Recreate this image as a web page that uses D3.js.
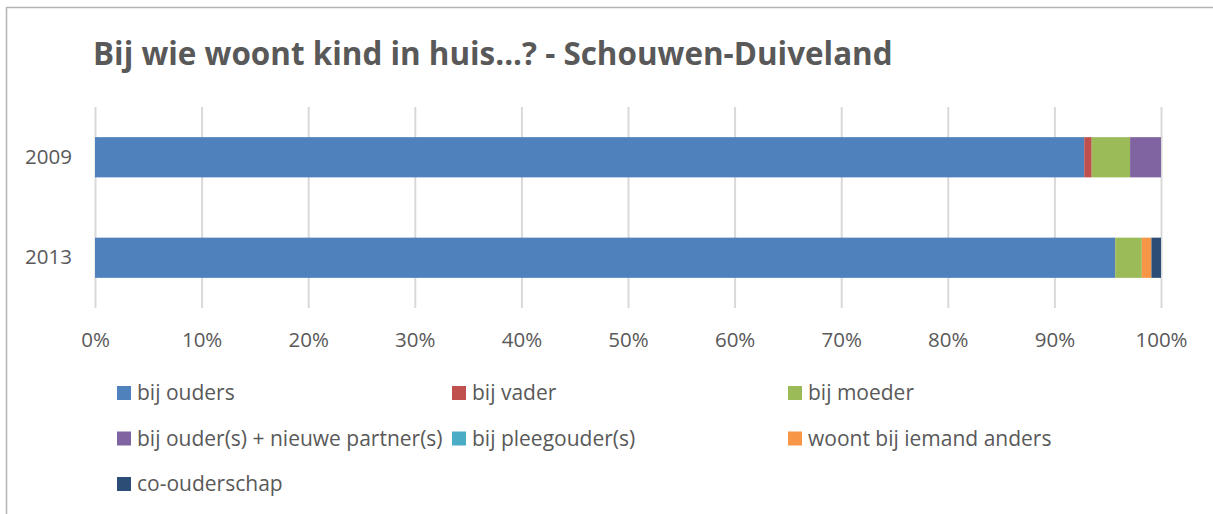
<!DOCTYPE html>
<html>
<head>
<meta charset="utf-8">
<script src="https://cdn.jsdelivr.net/npm/d3@7"></script>
<style>
  body { margin: 0; background: #fff; }
  svg { display: block; font-family: "Open Sans", sans-serif; }
</style>
</head>
<body>
<div id="chart"></div>
<script>
// categories (top to bottom)
var years = ["2009", "2013"];

// series, share per year (percent)
var seriesNames = ["bij ouders", "bij vader", "bij moeder", "bij ouder(s) + nieuwe partner(s)",
  "bij pleegouder(s)", "woont bij iemand anders", "co-ouderschap"];
var bijOuders = [92.8, 95.7];
var bijVader = [0.7, 0.0];
var bijMoeder = [3.6, 2.5];
var nieuwePartner = [2.9, 0.0];
var pleegouder = [0.0, 0.0];
var iemandAnders = [0.0, 0.9];
var coOuderschap = [0.0, 0.9];
var seriesColors = ["#4F81BD", "#C0504D", "#9BBB59", "#8064A2", "#4BACC6", "#F79646", "#2C4D75"];

var xTicks = [0, 0.1, 0.2, 0.3, 0.4, 0.5, 0.6, 0.7, 0.8, 0.9, 1];

var W = 1213, H = 514;
var margin = { top: 107, right: 52, bottom: 206, left: 95 };

var svg = d3.select("#chart").append("svg")
  .attr("width", W)
  .attr("height", H);

// outer chart border
svg.append("rect")
  .attr("x", 6.5).attr("y", 7.5)
  .attr("width", W + 20).attr("height", H + 20)
  .attr("fill", "none")
  .attr("stroke", "#b3b3b3")
  .attr("stroke-width", 1.5);

// build table for the stack
var allValues = [bijOuders, bijVader, bijMoeder, nieuwePartner, pleegouder, iemandAnders, coOuderschap];
var table = years.map(function (y, i) {
  var row = { year: y };
  seriesNames.forEach(function (s, j) { row[s] = allValues[j][i] / 100; });
  return row;
});
var stacked = d3.stack().keys(seriesNames)(table);

var x = d3.scaleLinear()
  .domain([0, 1])
  .range([margin.left, W - margin.right]);

var y = d3.scaleBand()
  .domain(years)
  .range([margin.top, H - margin.bottom])
  .paddingInner(0.6)
  .paddingOuter(0.3);

var color = d3.scaleOrdinal().domain(seriesNames).range(seriesColors);

// gridlines
svg.append("g")
  .selectAll("line")
  .data(xTicks)
  .join("line")
  .attr("x1", function (d) { return x(d) + 0.5; })
  .attr("x2", function (d) { return x(d) + 0.5; })
  .attr("y1", margin.top)
  .attr("y2", H - margin.bottom)
  .attr("stroke", "#d9d9d9")
  .attr("stroke-width", 2);

// bars
svg.append("g")
  .selectAll("g")
  .data(stacked)
  .join("g")
  .attr("fill", function (d) { return color(d.key); })
  .selectAll("rect")
  .data(function (d) { return d; })
  .join("rect")
  .attr("x", function (d) { return x(d[0]); })
  .attr("y", function (d) { return y(d.data.year); })
  .attr("width", function (d) { return Math.max(0, x(d[1]) - x(d[0])); })
  .attr("height", y.bandwidth());

// x axis
var xAxis = svg.append("g")
  .attr("transform", "translate(0," + (H - margin.bottom) + ")")
  .call(d3.axisBottom(x).tickValues(xTicks).tickFormat(d3.format(".0%")).tickSize(0).tickPadding(24));
xAxis.select(".domain").remove();
xAxis.selectAll("text")
  .attr("fill", "#595959")
  .style("font-family", "Open Sans, sans-serif")
  .style("font-size", "20.5px");

// y axis
var yAxis = svg.append("g")
  .attr("transform", "translate(" + margin.left + ",0)")
  .call(d3.axisLeft(y).tickSize(0).tickPadding(23));
yAxis.select(".domain").remove();
yAxis.selectAll("text")
  .attr("fill", "#595959")
  .style("font-family", "Open Sans, sans-serif")
  .style("font-size", "20.5px");

// title
var title = svg.append("text")
  .attr("x", 93)
  .attr("y", 65)
  .attr("fill", "#595959")
  .style("font-weight", "bold")
  .style("font-size", "28px")
  .text("Bij wie woont kind in huis...? - Schouwen-Duiveland");
// fit the title to the original width
var tw = title.node().getComputedTextLength();
title.style("font-size", (28 * 800 / tw) + "px");

// legend
var legendCols = [117, 452, 788];
var legend = svg.append("g")
  .selectAll("g")
  .data(seriesNames)
  .join("g")
  .attr("transform", function (d, i) {
    return "translate(" + legendCols[i % 3] + "," + (393 + Math.floor(i / 3) * 45.5) + ")";
  });
legend.append("rect")
  .attr("x", 0).attr("y", -7)
  .attr("width", 14).attr("height", 14)
  .attr("fill", function (d) { return color(d); });
legend.append("text")
  .attr("x", 20)
  .attr("y", 0)
  .attr("dy", "0.35em")
  .attr("fill", "#595959")
  .style("font-size", "21px")
  .text(function (d) { return d; });
</script>
</body>
</html>
